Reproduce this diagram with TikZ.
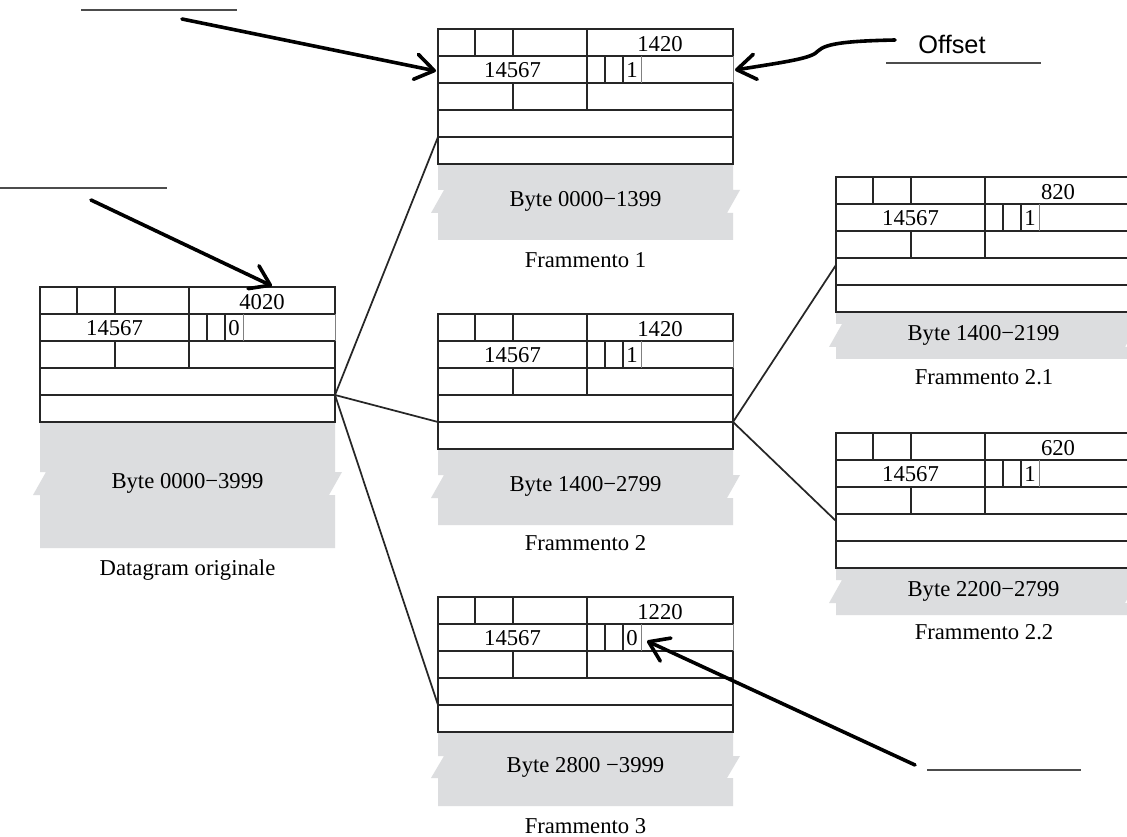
\documentclass[tikz,border=0pt]{standalone}
\usepackage{fontspec}
\setmainfont{Liberation Serif}
\newfontfamily\sansf{Liberation Sans}
\usetikzlibrary{arrows.meta}
\definecolor{bodygray}{RGB}{220,221,223}
\tikzset{
  hl/.style={line width=1.1pt, draw=black!85},
  thinl/.style={line width=0.45pt, draw=black!50},
  conn/.style={line width=1.3pt, draw=black!85},
  blank/.style={line width=0.9pt, draw=black!70},
  callout/.style={line width=2.7pt, line cap=round,
    -{Straight Barb[length=14pt,width=19pt,round]}},
  txt/.style={font=\fontsize{17}{20}\selectfont, inner sep=0pt},
  lbl/.style={font=\sansf\fontsize{19}{22}\selectfont, inner sep=0pt},
}
\newcommand\drawhdr[5]{%
  \begin{scope}[shift={(#2,#3)}]
    \fill[white] (0,0) rectangle (295,135);
    \draw[hl] (295,27) -- (295,0) -- (0,0) -- (0,135) -- (295,135) -- (295,54);
    \draw[hl] (0,27) -- (295,27) (0,54) -- (295,54) (0,81) -- (295,81) (0,108) -- (295,108);
    \draw[hl] (37,0) -- (37,27) (75,0) -- (75,27) (149,0) -- (149,81)
              (167,27) -- (167,54) (185,27) -- (185,54) (75,54) -- (75,81);
    \draw[thinl] (203,27) -- (203,54) (295,27) -- (295,54);
    \node[txt] (#1-off) at (222,15) {#4};
    \node[txt] (#1-id) at (74.5,41.5) {14567};
    \node[txt] (#1-flag) at (194,41.5) {#5};
    \coordinate (#1-in) at (0,108);
    \coordinate (#1-out) at (295,108);
    \coordinate (#1-mid) at (0,88);
    \coordinate (#1-w) at (-2,42);
    \coordinate (#1-e) at (297,41);
    \coordinate (#1-top) at (232,-1);
    \coordinate (#1-fl) at (209,44);
  \end{scope}}
\newcommand\drawbody[7]{%
  \begin{scope}[shift={(#2,#3)}]
    \fill[bodygray] (0,0) -- (295,0) -- (295,#5) -- (302,#5) -- (289,#6) -- (295,#6)
      -- (295,#4) -- (0,#4) -- (0,#6) -- (-7,#6) -- (6,#5) -- (0,#5) -- cycle;
    \node[txt] (#1-bytes) at (147.5,{(#5+#6)/2}) {#7};
  \end{scope}}
\begin{document}
\begin{tikzpicture}[x=0.75pt,y=-0.75pt]
  \fill[white] (0,0) rectangle (1127,837);
  \useasboundingbox (0,0) rectangle (1127,837);
  \clip (0,0) rectangle (1127,837);

  % bodies
  \drawbody{orig}{40}{422}{126}{50}{73}{Byte 0000−3999}
  \drawbody{f1}{438}{164}{76}{26}{49}{Byte 0000−1399}
  \drawbody{f2}{438}{449}{76}{26}{49}{Byte 1400−2799}
  \drawbody{f3}{438}{732}{74}{24}{46}{Byte 2800 −3999}
  \drawbody{f21}{836}{312}{47}{12}{35}{Byte 1400−2199}
  \drawbody{f22}{836}{568}{47}{12}{35}{Byte 2200−2799}

  % headers
  \drawhdr{orig}{40}{287}{4020}{0}
  \drawhdr{f1}{438}{29}{1420}{1}
  \drawhdr{f2}{438}{314}{1420}{1}
  \drawhdr{f3}{438}{597}{1220}{0}
  \drawhdr{f21}{836}{177}{820}{1}
  \drawhdr{f22}{836}{433}{620}{1}

  % captions
  \node[txt] (cap-orig) at (187.5,570) {Datagram originale};
  \node[txt] (cap-f1) at (585.5,260) {Frammento 1};
  \node[txt] (cap-f2) at (585.5,543) {Frammento 2};
  \node[txt] (cap-f3) at (585.5,826) {Frammento 3};
  \node[txt] (cap-f21) at (984,377) {Frammento 2.1};
  \node[txt] (cap-f22) at (984,632) {Frammento 2.2};

  % connectors
  \draw[conn] (orig-out) -- (f1-in);
  \draw[conn] (orig-out) -- (f2-in);
  \draw[conn] (orig-out) -- (f3-in);
  \draw[conn] (f2-out) -- (f21-mid);
  \draw[conn] (f2-out) -- (f22-mid);

  % blank lines
  \coordinate (b1a) at (81,10);   \coordinate (b1b) at (237,10);
  \coordinate (b2a) at (0,188);   \coordinate (b2b) at (167,188);
  \coordinate (b3a) at (886,63);  \coordinate (b3b) at (1041,63);
  \coordinate (b4a) at (927,770); \coordinate (b4b) at (1081,770);
  \draw[blank] (b1a) -- (b1b);
  \draw[blank] (b2a) -- (b2b);
  \draw[blank] (b3a) -- (b3b);
  \draw[blank] (b4a) -- (b4b);

  % offset label
  \node[lbl] (offset) at (952,44) {Offset};

  % callout arrows
  \coordinate (a1) at (182,19);
  \coordinate (a2) at (91,200);
  \coordinate (a3) at (895,40);
  \coordinate (a4) at (915,765);
  \draw[callout] (a1) -- (f1-w);
  \draw[callout] (a2) -- (orig-top);
  \draw[callout] (a3) .. controls (850,41) and (826,43) .. (818,51)
                      .. controls (812,58) and (792,61) .. (f1-e);
  \draw[callout] (a4) -- (f3-fl);
\end{tikzpicture}
\end{document}
